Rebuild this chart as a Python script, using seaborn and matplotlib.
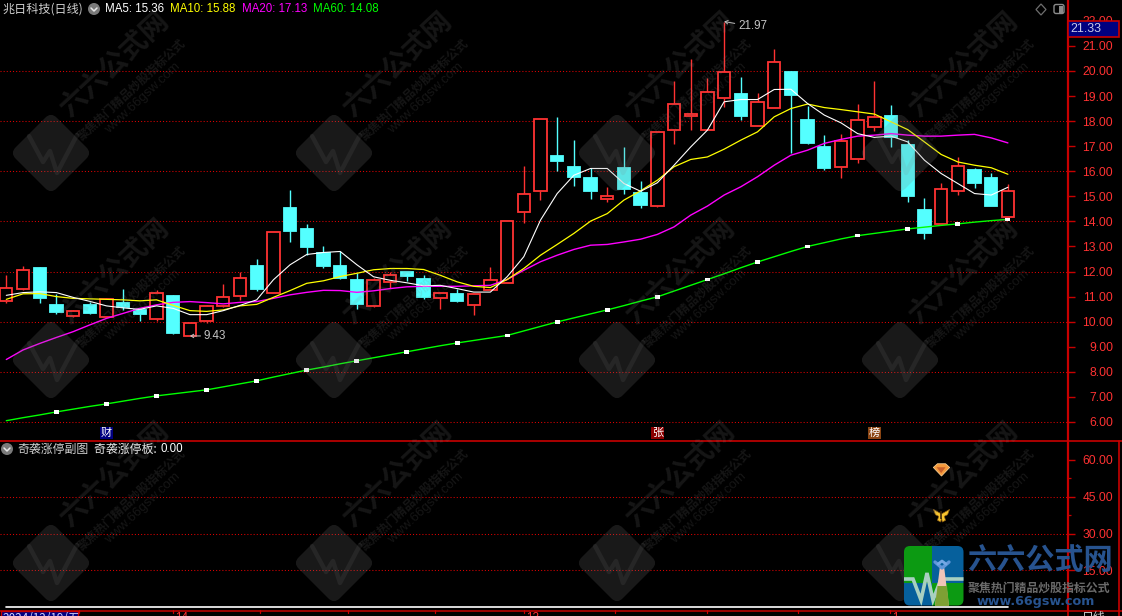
import numpy as np
import pandas as pd
import matplotlib
matplotlib.use("Agg")
import matplotlib.pyplot as plt
import seaborn as sns
from matplotlib.patches import Rectangle, Circle, FancyBboxPatch, Polygon
from matplotlib.path import Path
from matplotlib.transforms import Affine2D

# ---- данные ----
OPENS = [10.84, 11.32, 12.15, 10.67, 10.24, 10.67, 10.20, 10.75, 10.47, 10.12, 11.03, 9.43, 10.01,
         10.64, 11.04, 12.23, 11.16, 14.53, 13.71, 12.75, 12.23, 11.67, 10.63, 11.59, 11.97, 11.69,
         10.95, 11.12, 10.67, 11.27, 11.55, 14.38, 15.22, 16.60, 16.16, 15.72, 14.90, 16.12, 15.13,
         14.62, 17.63, 18.22, 17.63, 18.93, 19.07, 17.81, 18.53, 19.95, 18.04, 16.96, 16.18, 16.49,
         17.77, 18.20, 17.04, 14.45, 13.91, 15.22, 16.04, 15.72, 14.18]
CLOSES = [11.33, 12.05, 10.96, 10.39, 10.41, 10.35, 10.92, 10.57, 10.31, 11.13, 9.55, 9.93, 10.61,
          10.97, 11.73, 11.31, 13.57, 13.61, 12.99, 12.23, 11.75, 10.71, 11.65, 11.88, 11.81, 10.99,
          11.16, 10.82, 11.12, 11.68, 14.03, 15.11, 18.10, 16.40, 15.76, 15.20, 15.03, 15.28, 14.65,
          17.55, 18.70, 18.30, 19.18, 19.94, 18.20, 18.78, 20.34, 19.03, 17.12, 16.12, 17.19, 18.06,
          18.18, 17.35, 15.02, 13.53, 15.31, 16.19, 15.52, 14.61, 15.23]
HIGHS = [11.85, 12.21, 12.19, 11.11, 10.47, 10.80, 10.93, 11.29, 10.53, 11.27, 11.07, 9.93, 10.67,
         11.51, 12.00, 12.51, 13.57, 15.25, 13.91, 13.03, 12.80, 11.93, 11.73, 11.99, 12.00, 11.85,
         11.16, 11.32, 11.12, 12.17, 14.03, 16.20, 18.10, 18.16, 17.24, 16.11, 15.36, 16.96, 15.60,
         17.55, 19.59, 20.46, 19.70, 21.97, 19.75, 19.14, 20.87, 19.99, 18.60, 17.44, 17.48, 18.68,
         19.59, 18.64, 17.24, 14.93, 15.52, 16.56, 16.12, 15.92, 15.48]
LOWS = [10.76, 11.27, 10.76, 10.31, 10.20, 10.31, 10.19, 10.47, 10.03, 10.01, 9.51, 9.43, 9.96,
        10.60, 10.87, 11.23, 11.16, 13.19, 12.64, 12.15, 11.71, 10.51, 10.60, 11.35, 11.61, 10.91,
        10.51, 10.79, 10.27, 11.27, 11.55, 13.94, 14.85, 16.00, 15.42, 14.89, 14.77, 15.09, 14.53,
        14.57, 17.08, 17.64, 17.63, 18.57, 18.04, 17.81, 18.53, 16.72, 17.07, 16.04, 15.72, 16.32,
        17.60, 16.96, 14.77, 13.29, 13.91, 15.05, 15.32, 14.61, 14.18]

MA5 = [11.05, 11.16, 11.19, 11.16, 10.97, 10.81, 10.63, 10.55, 10.49, 10.63, 10.53, 10.28, 10.28,
       10.44, 10.65, 10.87, 11.67, 12.27, 12.68, 12.76, 12.80, 12.27, 11.79, 11.65, 11.55, 11.43,
       11.45, 11.32, 11.18, 11.18, 11.79, 12.59, 14.05, 15.11, 15.84, 16.11, 16.11, 15.51, 15.20,
       15.54, 16.24, 16.97, 17.64, 18.77, 18.86, 18.86, 19.26, 19.27, 18.70, 18.24, 17.93, 17.50,
       17.35, 17.40, 17.17, 16.44, 15.91, 15.51, 15.11, 15.05, 15.36]
MA10 = [10.89, 11.11, 11.12, 11.00, 10.93, 10.91, 10.89, 10.87, 10.83, 10.87, 10.65, 10.44, 10.41,
        10.47, 10.63, 10.69, 10.97, 11.24, 11.53, 11.63, 11.80, 11.93, 12.07, 12.12, 12.12, 12.08,
        11.85, 11.59, 11.41, 11.36, 11.68, 12.12, 12.65, 13.08, 13.52, 14.01, 14.31, 14.85, 15.22,
        15.64, 16.18, 16.47, 16.57, 16.88, 17.24, 17.57, 18.17, 18.50, 18.68, 18.54, 18.46, 18.37,
        18.28, 17.97, 17.66, 17.17, 16.67, 16.37, 16.24, 16.14, 15.88]
MA20 = [8.49, 8.87, 9.13, 9.37, 9.60, 9.87, 10.13, 10.33, 10.53, 10.67, 10.77, 10.80, 10.76, 10.71,
        10.77, 10.80, 10.93, 11.07, 11.17, 11.25, 11.24, 11.17, 11.23, 11.32, 11.39, 11.41, 11.41,
        11.41, 11.43, 11.45, 11.68, 12.05, 12.39, 12.65, 12.88, 13.05, 13.08, 13.18, 13.29, 13.48,
        13.78, 14.25, 14.61, 15.05, 15.38, 15.78, 16.24, 16.64, 16.84, 17.11, 17.27, 17.40, 17.44,
        17.50, 17.44, 17.40, 17.40, 17.44, 17.47, 17.33, 17.13]
MA60 = [6.05, 6.17, 6.28, 6.40, 6.51, 6.62, 6.72, 6.83, 6.94, 7.04, 7.12, 7.20, 7.28, 7.40, 7.52,
        7.64, 7.79, 7.93, 8.07, 8.19, 8.32, 8.44, 8.56, 8.68, 8.80, 8.92, 9.04, 9.15, 9.25, 9.35,
        9.45, 9.63, 9.81, 9.99, 10.15, 10.31, 10.47, 10.64, 10.82, 10.99, 11.22, 11.45, 11.68, 11.91,
        12.15, 12.38, 12.59, 12.80, 13.00, 13.15, 13.30, 13.43, 13.52, 13.61, 13.70, 13.77, 13.84,
        13.90, 13.97, 14.03, 14.08]
SUB_VALUES = [0.0] * 61

MAIN_TICKS = list(range(6, 23))
MAIN_GRID = [6, 8, 10, 12, 14, 16, 18, 20]
SUB_TICKS = [15, 30, 45, 60]
SUB_MINOR = [7.5, 22.5, 37.5, 52.5]
SUB_GRID = [15, 30, 45]
TAGS = [(6, "财", "#000080"), (39, "张", "#8b0000"), (52, "榜", "#8b4513")]
LEGEND = [("MA5: 15.36", "#ffffff", 105), ("MA10: 15.88", "#ffff00", 170),
          ("MA20: 17.13", "#ff00ff", 242), ("MA60: 14.08", "#00ff00", 313)]
DATE_TICKS = [79, 173, 260, 348, 435, 524, 615, 707, 798, 890]
DATE_LABELS = [(175, "14"), (526, "12"), (892, "1")]
LAST_PRICE = "21.33"
GEM_VALUE = 56.3
BUTTERFLY_VALUE = 37.6
SIGNAL_DAY = 56

# ---- оформление ----
RED = "#ff3232"
CYAN = "#54ffff"
LINE_RED = "#c80000"
GRID_RED = "#e00000"
CN = ["Noto Sans CJK SC", "DejaVu Sans"]
LAT = ["Liberation Sans", "DejaVu Sans"]

sns.set_style("dark", rc={"axes.facecolor": "black", "figure.facecolor": "black"})
plt.rcParams["font.family"] = LAT

W, H = 1122, 616
fig = plt.figure(figsize=(W / 100, H / 100), dpi=100)


def px_axes(left, top, right, bottom, **kw):
    return fig.add_axes([left / W, 1 - bottom / H, (right - left) / W, (bottom - top) / H], **kw)


ax = px_axes(0, 0, 1068, 440)
ax2 = px_axes(0, 441, 1068, 610)
over = fig.add_axes([0, 0, 1, 1], zorder=5)
over.set_xlim(0, W)
over.set_ylim(H, 0)
over.axis("off")
over.patch.set_alpha(0)

df = pd.DataFrame({"day": np.arange(len(OPENS)), "open": OPENS, "close": CLOSES,
                   "high": HIGHS, "low": LOWS})
df["top"] = df[["open", "close"]].max(axis=1)
df["bot"] = df[["open", "close"]].min(axis=1)
df["up"] = df["close"] >= df["open"]

XLIM = (-0.377, 63.6)
ax.set_xlim(*XLIM)
ax.set_ylim(5.28, 22.83)
ax2.set_xlim(*XLIM)
ax2.set_ylim(-1.2, 67.75)

# сетка
for g in MAIN_GRID:
    ax.axhline(g, color=GRID_RED, lw=0.75, ls=(0, (1, 2)), zorder=1)
for g in SUB_GRID:
    ax2.axhline(g, color=GRID_RED, lw=0.75, ls=(0, (1, 2)), zorder=1)

# свечи
for up, color, face in [(True, RED, "black"), (False, CYAN, CYAN)]:
    part = df[df["up"] == up]
    ax.vlines(part["day"], part["top"], part["high"], color=color, lw=1.0, zorder=2)
    ax.vlines(part["day"], part["low"], part["bot"], color=color, lw=1.0, zorder=2)
    ax.bar(part["day"], part["top"] - part["bot"], bottom=part["bot"], width=0.74,
           facecolor=face, edgecolor=color, linewidth=1.3, zorder=3)

# скользящие средние
ma_df = pd.DataFrame({"day": df["day"], "MA60": MA60, "MA20": MA20, "MA10": MA10, "MA5": MA5})
ma_long = ma_df.melt(id_vars="day", var_name="ma", value_name="price")
sns.lineplot(data=ma_long, x="day", y="price", hue="ma", size="ma", ax=ax, estimator=None, sort=False,
             palette={"MA5": "#ffffff", "MA10": "#ffff00", "MA20": "#ff00ff", "MA60": "#00ff00"},
             sizes={"MA5": 0.8, "MA10": 0.9, "MA20": 1.0, "MA60": 1.0},
             hue_order=["MA60", "MA20", "MA10", "MA5"], legend=False, zorder=4)

# белые метки на MA60, каждая третья свеча
box_marker = Path([(-1, -0.7), (1, -0.7), (1, 0.7), (-1, 0.7), (-1, -0.7)], closed=True)
sns.scatterplot(data=ma_df.iloc[3::3], x="day", y="MA60", ax=ax, marker=box_marker, s=13,
                color="white", edgecolor="none", linewidth=0, zorder=5, legend=False)

# подписи экстремумов
for day, value, dx, dy, label in [(11, 9.43, 10, 0, "9.43"), (43, 21.97, 10, -3.5, "21.97")]:
    ax.annotate(label, xy=(day, value), xytext=(dx, dy), textcoords="offset points",
                color="#c4c4c4", fontsize=8.4, va="center", zorder=6,
                arrowprops=dict(arrowstyle="->,head_length=0.25,head_width=0.15",
                                color="#c4c4c4", lw=0.7, shrinkA=0, shrinkB=0))

for day, tag, bg in TAGS:
    ax.text(day, 5.56, tag, color="white", fontsize=8, family=CN, ha="center", va="center",
            zorder=6, bbox=dict(boxstyle="square,pad=0.08", fc=bg, ec="none"))

# нижняя панель
sub_df = pd.DataFrame({"day": df["day"], "value": SUB_VALUES})
sns.lineplot(data=sub_df, x="day", y="value", ax=ax2, color="white", lw=1.2, zorder=3)
gem = Path([(-1, 0.25), (-0.5, 0.7), (0.5, 0.7), (1, 0.25), (0, -0.8), (-1, 0.25)], closed=True)
gem_in = Path([(-0.5, 0.2), (0.5, 0.2), (0, -0.45), (-0.5, 0.2)], closed=True)
wings = Path([(-1, 0.75), (-0.1, 0.25), (0.1, 0.25), (1, 0.75), (0.75, 0.1), (0.35, -0.1),
              (0.5, -0.6), (0.1, -0.8), (0, -0.3), (-0.1, -0.8), (-0.5, -0.6), (-0.35, -0.1),
              (-0.75, 0.1), (-1, 0.75)], closed=True)
marks = pd.DataFrame({"day": [SIGNAL_DAY], "gem": [GEM_VALUE], "fly": [BUTTERFLY_VALUE]})
sns.scatterplot(data=marks, x="day", y="gem", ax=ax2, marker=gem, s=140, color="#f59a3c",
                edgecolor="#ffd9a0", linewidth=0.5, zorder=4, legend=False)
sns.scatterplot(data=marks, x="day", y="gem", ax=ax2, marker=gem_in, s=42, color="#c8602a",
                edgecolor="none", linewidth=0, zorder=5, legend=False)
sns.scatterplot(data=marks, x="day", y="fly", ax=ax2, marker=wings, s=135, color="#f7c52e",
                edgecolor="#8a5a10", linewidth=0.5, zorder=4, legend=False)
sns.scatterplot(data=marks, x="day", y="fly", ax=ax2, marker="|", s=30, color="#3a2408",
                linewidth=1.2, zorder=5, legend=False)

# оси
for a, ticks, labels in [(ax, MAIN_TICKS, [f"{v:.2f}" for v in MAIN_TICKS]),
                         (ax2, SUB_TICKS, [f"{v:.2f}" for v in SUB_TICKS])]:
    a.grid(False)
    a.set_xlabel("")
    a.set_ylabel("")
    a.set_xticks([])
    a.yaxis.tick_right()
    a.set_yticks(ticks)
    a.set_yticklabels(labels, ha="right")
    a.tick_params(axis="y", which="major", length=5, width=1.0, color=LINE_RED,
                  labelcolor=RED, labelsize=8.7, pad=27.5, left=False, right=True)
    for side in ["left", "top", "bottom"]:
        a.spines[side].set_visible(False)
    a.spines["right"].set_color(LINE_RED)
    a.spines["right"].set_linewidth(1.6)
ax2.set_yticks(SUB_MINOR, minor=True)
ax2.tick_params(axis="y", which="minor", length=2.5, width=0.9, color=LINE_RED, left=False, right=True)

# рамка и нижняя строка
over.plot([0, W], [440.5, 440.5], color=LINE_RED, lw=1.2)
over.plot([1119.5, 1119.5], [441, H], color=LINE_RED, lw=1.2)
over.plot([0, W], [610.5, 610.5], color=LINE_RED, lw=1.1)
for x in DATE_TICKS:
    over.plot([x, x], [610, 613], color=LINE_RED, lw=0.9)
over.plot([1068, 1068], [610, H], color=LINE_RED, lw=1.2)
for x, label in DATE_LABELS:
    over.text(x, 612, label, color=RED, fontsize=8.4, va="top", ha="left")
over.add_patch(Rectangle((0.5, 610.5), 78, 10, fc="#000080", ec=LINE_RED, lw=1))
over.text(2, 612, "2024/12/19/五", color="#d0d0ff", fontsize=8.4, family=CN, va="top")
over.text(1082, 611, "日线", color="#d0d0d0", fontsize=8.6, family=CN, va="top")


def round_icon(cx, cy, r=6):
    over.add_patch(Circle((cx, cy), r, fc="#7a7a7a", ec="none"))
    over.plot([cx - 3, cx, cx + 3], [cy - 1, cy + 2, cy - 1], color="#e8e8e8", lw=1.1)


# заголовки
over.text(2, 9, "兆日科技(日线)", color="#d0d0d0", fontsize=8.7, family=CN, va="center")
round_icon(94, 9)
for label, color, x in LEGEND:
    over.text(x, 9, label, color=color, fontsize=8.3, va="center")
round_icon(7, 449)
over.text(17, 449, "奇袭涨停副图", color="#d0d0d0", fontsize=8.6, family=CN, va="center")
over.text(94, 449, "奇袭涨停板: ", color="#e8e8e8", fontsize=8.6, family=CN, va="center")
over.text(161, 449, "0.00", color="#ffffff", fontsize=8.3, va="center")

# значки справа сверху и текущая цена
over.add_patch(Polygon([(1041, 4), (1046, 9.5), (1041, 15), (1036, 9.5)], closed=True,
                       fc="none", ec="#6e6e6e", lw=0.9))
over.add_patch(FancyBboxPatch((1054, 4.5), 10, 9, boxstyle="round,pad=0,rounding_size=2",
                              fc="#000000", ec="#8a8a8a", lw=1))
over.add_patch(Rectangle((1059, 5.5), 4.5, 7, fc="#8a8a8a", ec="none"))
over.add_patch(Rectangle((1068.5, 21), 51, 15.5, fc="#000080", ec=LINE_RED, lw=1.2))
over.text(1070, 29, LAST_PRICE, color="#c8c8e8", fontsize=8.9, va="center")


# водяные знаки
def watermark(cx, cy):
    wm = dict(color="#808080", alpha=0.17, rotation=43, rotation_mode="anchor",
              ha="center", va="center", family=CN, zorder=2)
    tr = Affine2D().rotate_deg(45).translate(cx, cy) + over.transData
    over.add_patch(FancyBboxPatch((-29, -29), 58, 58, boxstyle="round,pad=0,rounding_size=8",
                                  fc="#808080", ec="none", alpha=0.2, transform=tr, zorder=2))
    over.plot(cx + np.array([-22, -8, -1, 6, 26]), cy + np.array([-17, 9, -2, 20, -18]),
              color="#808080", alpha=0.13, lw=3.2, zorder=2)
    over.text(cx + 64, cy - 88, "六六公式网", fontsize=20, fontweight="bold", **wm)
    over.text(cx + 81, cy - 63, "聚焦热门精品炒股指标公式", fontsize=8.6, fontweight="bold", **wm)
    wm["family"] = LAT
    over.text(cx + 92, cy - 55, "www.66gsw.com", fontsize=9.5, **wm)


for cy in [153, 360, 563]:
    for cx in [51, 334, 617, 900]:
        watermark(cx, cy)

# логотип в углу
shape = FancyBboxPatch((904, 546), 59.5, 59.5, boxstyle="round,pad=0,rounding_size=6",
                       fc="none", ec="none", zorder=7)
over.add_patch(shape)
for x, y, w, h, c in [(904, 546, 28, 37, "#0c9a12"), (932, 546, 32, 37, "#06609c"),
                      (904, 583, 28, 23, "#06609c"), (932, 583, 32, 23, "#0c9a12")]:
    r = Rectangle((x, y), w, h, fc=c, ec="none", zorder=7)
    over.add_patch(r)
    r.set_clip_path(shape)
ecg, = over.plot([904, 913, 921, 927, 933, 941, 964], [579, 579, 600, 573, 600, 579, 579],
                 color="#a8d0c0", lw=2.6, zorder=8, solid_joinstyle="miter")
ecg.set_clip_path(shape)
tower = Polygon([(940, 566), (944, 566), (949, 606), (935, 606)], closed=True, fc="#f0c4b8",
                ec="none", zorder=9)
over.add_patch(tower)
low = Polygon([(937.5, 586), (947, 586), (949, 606), (935, 606)], closed=True, fc="#7ea034",
              ec="none", zorder=10)
over.add_patch(low)
over.plot([935, 942, 949], [562, 568, 562], color="#5f96d8", lw=2.4, zorder=10)
over.plot([938, 942, 946], [564, 561, 564], color="#74a8e4", lw=2.0, zorder=10)
over.text(967, 560, "六六公式网", color="#27538f", fontsize=21, fontweight="bold", family=CN,
          va="center", zorder=8)
over.text(968, 588, "聚焦热门精品炒股指标公式", color="#6a6a6a", fontsize=8.6, fontweight="bold",
          family=CN, va="center", zorder=8)
over.text(977, 601, "www.66gsw.com", color="#27538f", fontsize=9.2, fontweight="bold",
          family="DejaVu Sans", va="center", zorder=8)

fig.savefig("out.png", dpi=100, facecolor="black")
